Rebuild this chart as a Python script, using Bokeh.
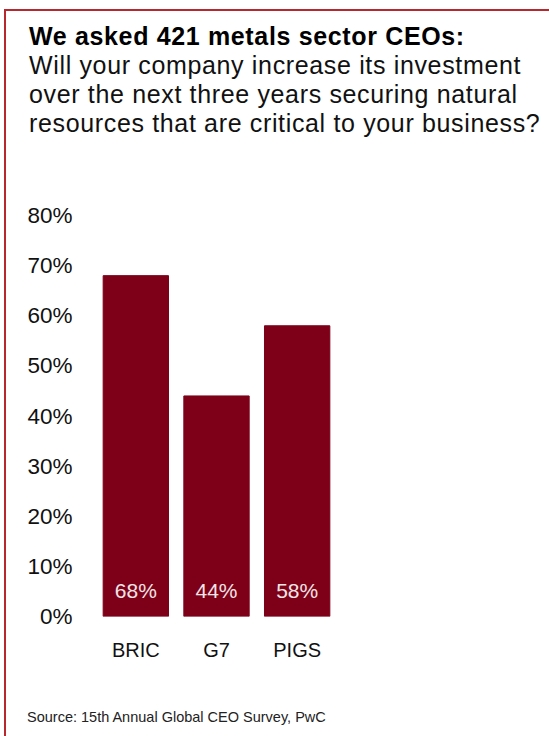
from bokeh.plotting import figure
from bokeh.layouts import column
from bokeh.models import FactorRange, Range1d, FixedTicker, ColumnDataSource, Div
from bokeh.core.properties import value
from bokeh.embed import file_html
from bokeh.resources import INLINE

categories = ["BRIC", "G7", "PIGS"]
shares = [68, 44, 58]
value_labels = ["68%", "44%", "58%"]
y_ticks = [0, 10, 20, 30, 40, 50, 60, 70, 80]
y_tick_labels = ["0%", "10%", "20%", "30%", "40%", "50%", "60%", "70%", "80%"]

title_bold = "We asked 421 metals sector CEOs:"
question_lines = [
    "Will your company increase its investment",
    "over the next three years securing natural",
    "resources that are critical to your business?",
]
source_text = "Source: 15th Annual Global CEO Survey, PwC"

FONT = "Liberation Sans"
BAR = "#7d0018"
RED = "#b8272d"

# page geometry (pixels)
OX, OY = 6, 11            # content origin inside the red border
HEAD_H = 140
FIG_TOP = OY + HEAD_H     # 151
FRAME_TOP, FRAME_BOTTOM = 215, 616
FIG_H = 529
FRAME_LEFT = 95
FIG_W = 543

head_html = (
    f'<div style="font-family:\'{FONT}\';font-size:25px;line-height:29px;color:#111;'
    f'letter-spacing:0.65px;padding:11px 0 0 23px;margin:0;white-space:nowrap;">'
    f'<div style="font-weight:bold;color:#000;">{title_bold}</div>'
    + "".join(f"<div>{l}</div>" for l in question_lines)
    + "</div>"
)
header = Div(text=head_html, width=FIG_W, height=HEAD_H, margin=0)

p = figure(width=FIG_W, height=FIG_H, x_range=FactorRange(*categories, range_padding=0),
           y_range=Range1d(0, 80), output_backend="svg", toolbar_location=None,
           min_border_left=FRAME_LEFT - OX, min_border_right=FIG_W - (FRAME_LEFT - OX) - 242,
           min_border_top=FRAME_TOP - FIG_TOP,
           min_border_bottom=FIG_TOP + FIG_H - FRAME_BOTTOM, margin=0)
p.outline_line_color = None
p.grid.grid_line_color = None
p.background_fill_color = "white"
p.border_fill_color = "white"

src = ColumnDataSource(dict(cat=categories, share=shares, lab=value_labels))
p.vbar(x="cat", top="share", width=0.81, source=src, fill_color=BAR, line_color=BAR)
p.text(x="cat", y=0, text="lab", source=src, text_align="center", text_baseline="middle",
       y_offset=-26, text_color="#f3e4e6", text_font=value(FONT), text_font_size="21px")

ya = p.yaxis[0]
ya.ticker = FixedTicker(ticks=y_ticks)
ya.major_label_overrides = dict(zip(y_ticks, y_tick_labels))
for ax in (p.xaxis[0], ya):
    ax.axis_line_color = None
    ax.major_tick_line_color = None
    ax.minor_tick_line_color = None
    ax.major_tick_in = 0
    ax.major_tick_out = 0
    ax.minor_tick_in = 0
    ax.minor_tick_out = 0
    ax.major_label_text_font = FONT
    ax.major_label_text_font_size = "22.5px"
    ax.major_label_text_color = "#111111"
ya.major_label_standoff = 23
p.xaxis[0].major_label_standoff = 22
p.xaxis[0].major_label_text_font_size = "20px"

SRC_H = 736 - (FIG_TOP + FIG_H)
source_div = Div(
    text=(f'<div style="font-family:\'{FONT}\';font-size:14.5px;line-height:17px;color:#222;'
          f'padding:29px 0 0 21px;margin:0;white-space:nowrap;">{source_text}</div>'),
    width=FIG_W, height=SRC_H, margin=0)

layout = column(header, p, source_div, spacing=0, margin=(OY - 2, 0, 0, OX - 2),
                styles={"border-top": f"2px solid {RED}", "border-left": f"2px solid {RED}"})

open("out.html", "w").write(file_html(layout, INLINE))
